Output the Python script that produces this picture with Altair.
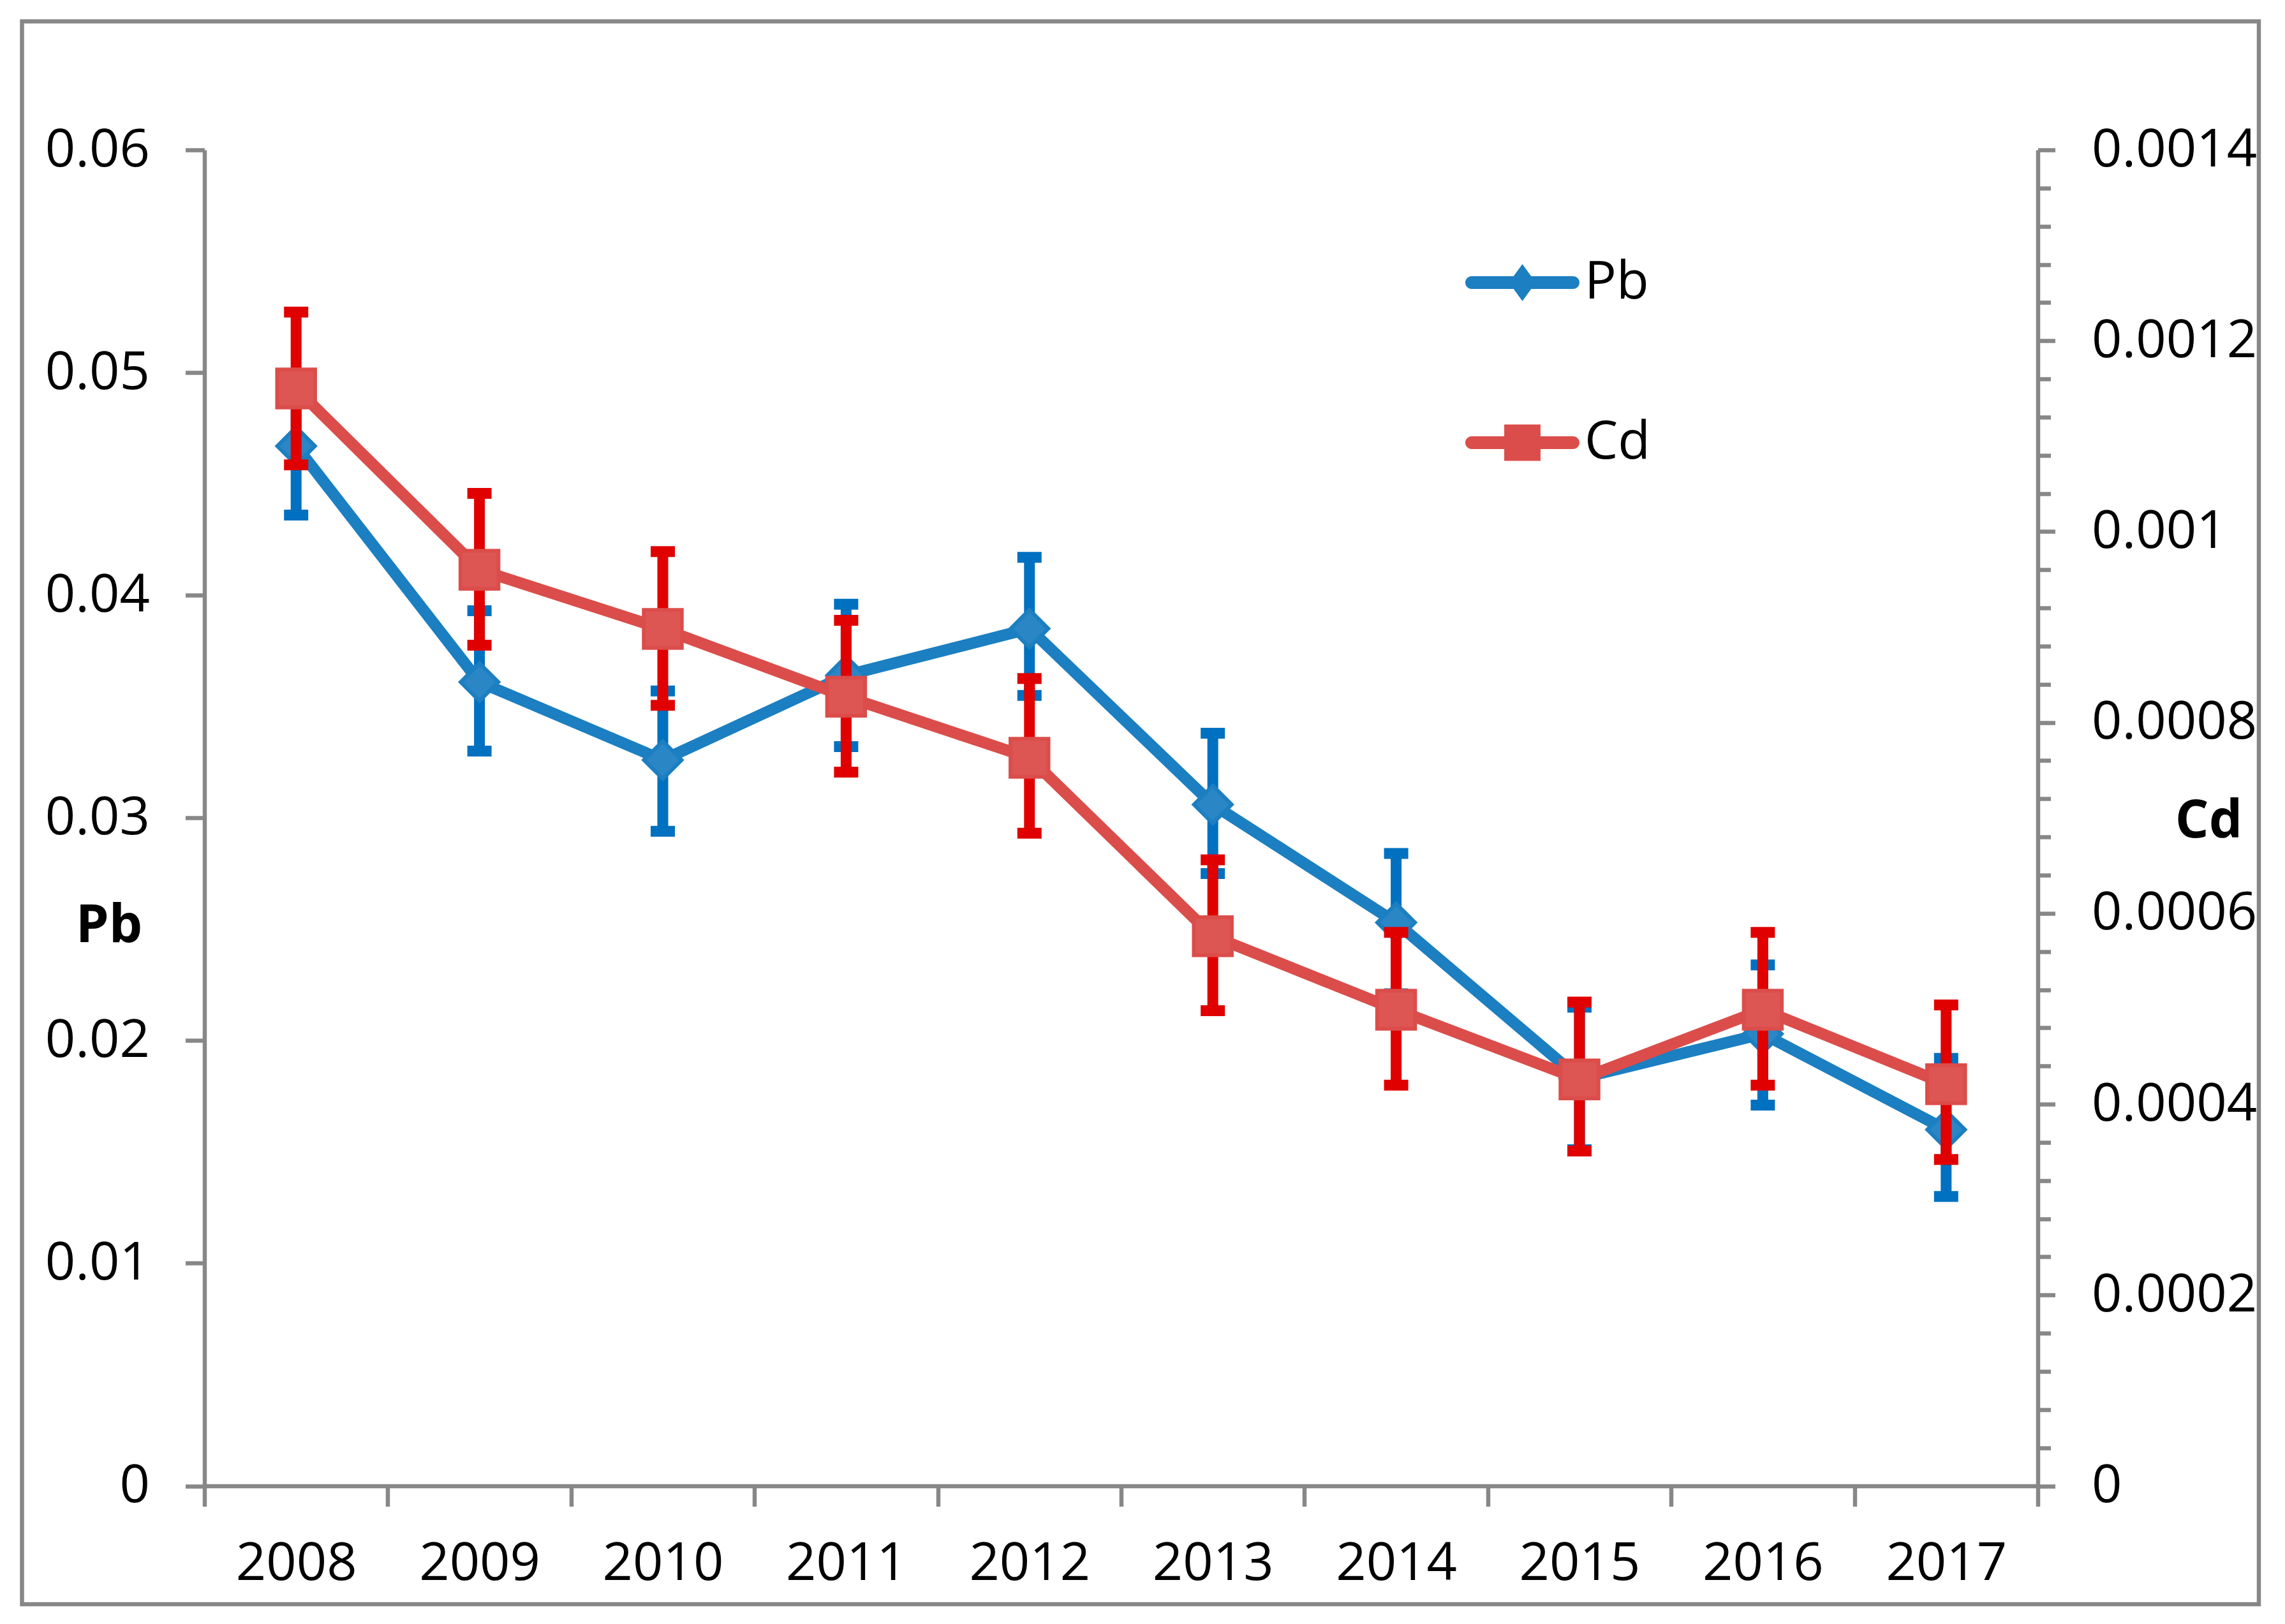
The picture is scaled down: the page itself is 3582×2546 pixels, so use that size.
import altair as alt
import pandas as pd

# ---------------- data ----------------
years = [2008, 2009, 2010, 2011, 2012, 2013, 2014, 2015, 2016, 2017]
pb = [0.0467, 0.0361, 0.0326, 0.0364, 0.0385, 0.0306, 0.0253, 0.0183, 0.0203, 0.0160]
pb_hi = [0.0498, 0.0393, 0.0357, 0.0396, 0.0417, 0.0338, 0.0284, 0.0215, 0.0234, 0.0192]
pb_lo = [0.0436, 0.0330, 0.0294, 0.0332, 0.0355, 0.0275, 0.0221, 0.0151, 0.0171, 0.0130]
cd = [0.00115, 0.000960, 0.000898, 0.000827, 0.000763, 0.000576, 0.000499, 0.000426, 0.000499, 0.000421]
cd_hi = [0.00123, 0.00104, 0.000979, 0.000907, 0.000846, 0.000656, 0.000580, 0.000507, 0.000580, 0.000504]
cd_lo = [0.00107, 0.000881, 0.000818, 0.000748, 0.000684, 0.000498, 0.000420, 0.000351, 0.000420, 0.000342]
series_names = ["Pb", "Cd"]
pb_ticks = [0, 0.01, 0.02, 0.03, 0.04, 0.05, 0.06]
cd_ticks = [round(i * 0.00004, 5) for i in range(36)]
year_ticks = [2007.5 + 0.5 * i for i in range(21)]

df_pb = pd.DataFrame({"year": years, "pb": pb, "pb_lo": pb_lo, "pb_hi": pb_hi, "series": "Pb"})
df_cd = pd.DataFrame({"year": years, "cd": cd, "cd_lo": cd_lo, "cd_hi": cd_hi, "series": "Cd"})

# ---------------- style ----------------
FONT = "Open Sans"
FS = 83
GRAY = "#878787"
PB_LINE, PB_FILL, PB_EB = "#1B7FC1", "#2B86C6", "#0070C0"
CD_LINE, CD_FILL, CD_EB = "#DB4D4A", "#DE5653", "#E00000"

W, H = 2874, 2094.5

path_pb = ("M-0.888,-0.112 L0.888,-0.112 A0.112,0.112 0 0 1 0.888,0.112 "
           "L-0.888,0.112 A0.112,0.112 0 0 1 -0.888,-0.112 Z "
           "M0,-0.324 L0.235,0 L0,0.324 L-0.235,0 Z")
path_cd = ("M-0.888,-0.112 L0.888,-0.112 A0.112,0.112 0 0 1 0.888,0.112 "
           "L-0.888,0.112 A0.112,0.112 0 0 1 -0.888,-0.112 Z "
           "M-0.318,-0.318 L0.318,-0.318 L0.318,0.318 L-0.318,0.318 Z")

x_axis = alt.Axis(
    values=year_ticks,
    labelExpr="datum.value % 1 === 0 ? format(datum.value, 'd') : ''",
    tickOpacity={"condition": {"test": "datum.value % 1 === 0", "value": 0}, "value": 1},
    tickSize=32, labelPadding=90, labelBaseline="middle",
    labelOverlap=False, labelFlush=False, grid=False, title=None,
)
x_scale = alt.Scale(domain=[2007.5, 2017.5], nice=False, zero=False)

def X():
    return alt.X("year:Q", scale=x_scale, axis=x_axis)

pb_scale = alt.Scale(domain=[0, 0.06], nice=False, zero=True)
pb_axis = alt.Axis(
    orient="left", values=pb_ticks, format="~g", grid=False,
    tickSize=30, labelPadding=56, labelOverlap=False, labelFlush=False,
    title="Pb", titleAngle=0, titleX=-150, titleY=1216,
    titleAlign="center", titleBaseline="middle",
)

major = "abs(datum.value*5000 - round(datum.value*5000)) < 0.001"
cd_scale = alt.Scale(domain=[0, 0.0014], nice=False, zero=True)
cd_axis = alt.Axis(
    orient="right", values=cd_ticks, grid=False,
    labelExpr=major + " ? format(datum.value, '~g') : ''",
    tickSize={"condition": {"test": major, "value": 27}, "value": 20},
    labelPadding=57, labelOverlap=False, labelFlush=False,
    title="Cd", titleAngle=0, titleX=267.5, titleY=1052,
    titleAlign="center", titleBaseline="middle",
)

# ---------------- Pb layer ----------------
bpb = alt.Chart(df_pb)
pb_bar = bpb.mark_rule(color=PB_EB, strokeWidth=17).encode(
    x=X(), y=alt.Y("pb_lo:Q", scale=pb_scale, axis=pb_axis), y2="pb_hi:Q")
pb_cap_hi = bpb.mark_tick(color=PB_EB, thickness=17, size=38, orient="horizontal", opacity=1).encode(
    x=X(), y=alt.Y("pb_hi:Q", scale=pb_scale, axis=pb_axis))
pb_cap_lo = bpb.mark_tick(color=PB_EB, thickness=17, size=38, orient="horizontal", opacity=1).encode(
    x=X(), y=alt.Y("pb_lo:Q", scale=pb_scale, axis=pb_axis))
pb_line = bpb.mark_line(color=PB_LINE, strokeWidth=18, strokeCap="round", strokeJoin="round").encode(
    x=X(), y=alt.Y("pb:Q", scale=pb_scale, axis=pb_axis))
pb_pts = bpb.mark_point(shape="diamond", filled=True, fill=PB_FILL, stroke=PB_LINE,
                        strokeWidth=6, size=3481, opacity=1).encode(
    x=X(), y=alt.Y("pb:Q", scale=pb_scale, axis=pb_axis))

leg = alt.Legend(orient="none", legendX=1976.5, legendY=118.5, title=None, padding=0,
                 symbolSize=32041, symbolStrokeWidth=0, symbolOpacity=1,
                 labelFont=FONT, labelFontSize=FS, labelColor="#000000", labelLimit=1000,
                 labelOffset=8, rowPadding=119, labelBaseline="middle")
pb_legend = bpb.mark_point(filled=True, size=0, strokeWidth=0).encode(
    x=X(), y=alt.Y("pb:Q", scale=pb_scale, axis=pb_axis),
    color=alt.Color("series:N", scale=alt.Scale(domain=series_names, range=[PB_LINE, CD_LINE]), legend=leg),
    shape=alt.Shape("series:N", scale=alt.Scale(domain=series_names, range=[path_pb, path_cd]), legend=leg),
)

pb_layer = alt.layer(pb_legend, pb_bar, pb_cap_hi, pb_cap_lo, pb_line, pb_pts)

# ---------------- Cd layer ----------------
bcd = alt.Chart(df_cd)
cd_bar = bcd.mark_rule(color=CD_EB, strokeWidth=17).encode(
    x=X(), y=alt.Y("cd_lo:Q", scale=cd_scale, axis=cd_axis), y2="cd_hi:Q")
cd_cap_hi = bcd.mark_tick(color=CD_EB, thickness=17, size=38, orient="horizontal", opacity=1).encode(
    x=X(), y=alt.Y("cd_hi:Q", scale=cd_scale, axis=cd_axis))
cd_cap_lo = bcd.mark_tick(color=CD_EB, thickness=17, size=38, orient="horizontal", opacity=1).encode(
    x=X(), y=alt.Y("cd_lo:Q", scale=cd_scale, axis=cd_axis))
cd_line = bcd.mark_line(color=CD_LINE, strokeWidth=18, strokeCap="round", strokeJoin="round").encode(
    x=X(), y=alt.Y("cd:Q", scale=cd_scale, axis=cd_axis))
cd_pts = bcd.mark_point(shape="square", filled=True, fill=CD_FILL, stroke=CD_LINE,
                        strokeWidth=6, size=3540, opacity=1).encode(
    x=X(), y=alt.Y("cd:Q", scale=cd_scale, axis=cd_axis))

cd_layer = alt.layer(cd_bar, cd_cap_hi, cd_cap_lo, cd_line, cd_pts)

# ---------------- outer frame ----------------
frame = alt.Chart(pd.DataFrame({"f": [0]})).mark_rect(
    fillOpacity=0, stroke=GRAY, strokeWidth=6.5).encode(
    x=alt.value(-286), x2=alt.value(3220.5), y=alt.value(-201.5), y2=alt.value(2280))

chart = (
    alt.layer(frame, pb_layer, cd_layer)
    .resolve_scale(y="independent")
    .properties(width=W, height=H, background="#ffffff",
                padding={"left": 312.5, "top": 227, "right": 379.5, "bottom": 208.5},
                autosize=alt.AutoSizeParams(type="none"))
    .configure_view(strokeWidth=0)
    .configure_axis(labelFont=FONT, labelFontSize=FS, labelColor="#000000", labelLimit=1000,
                    titleFont=FONT, titleFontSize=FS, titleFontWeight="bold", titleColor="#000000",
                    domainColor=GRAY, domainWidth=6.5, tickColor=GRAY, tickWidth=6.5, grid=False)
)

chart.save("out.html", embed_options={"renderer": "svg", "actions": False})
